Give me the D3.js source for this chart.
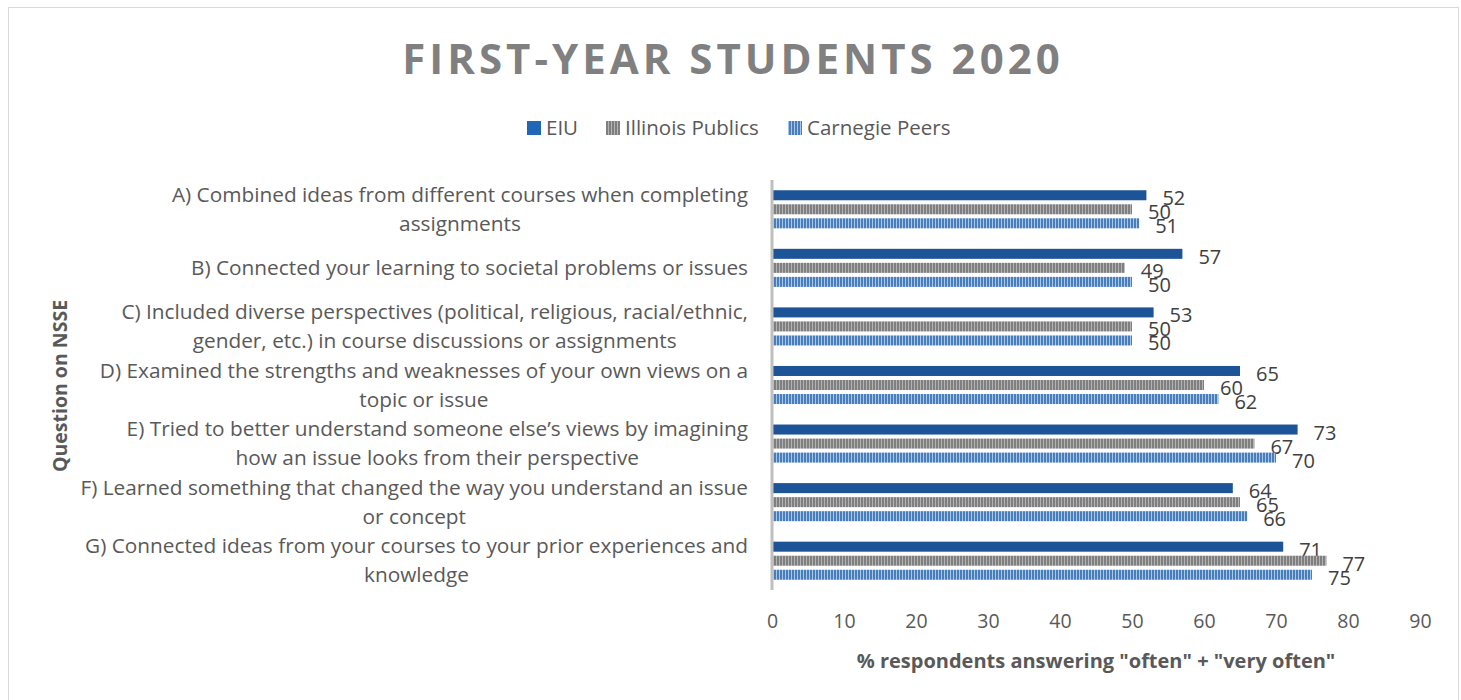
<!DOCTYPE html>
<meta charset="utf-8">
<style>
  body { margin: 0; background: #fff; }
  svg text { font-family: "Open Sans", Lato, sans-serif; fill: #595959; }
  .tick text { font-size: 19.5px; fill: #595959; font-family: "Open Sans", sans-serif; }
</style>
<body>
<script src="https://d3js.org/d3.v7.min.js"></script>
<script>
  // chart values
  var questions = [
    ["A) Combined ideas from different courses when completing", "assignments"],
    ["B) Connected your learning to societal problems or issues"],
    ["C) Included diverse perspectives (political, religious, racial/ethnic,", "gender, etc.) in course discussions or assignments"],
    ["D) Examined the strengths and weaknesses of your own views on a", "topic or issue"],
    ["E) Tried to better understand someone else\u2019s views by imagining", "how an issue looks from their perspective"],
    ["F) Learned something that changed the way you understand an issue", "or concept"],
    ["G) Connected ideas from your courses to your prior experiences and", "knowledge"]
  ];
  var seriesNames = ["EIU", "Illinois Publics", "Carnegie Peers"];
  var eiu = [52, 57, 53, 65, 73, 64, 71];
  var illinois = [50, 49, 50, 60, 67, 65, 77];
  var carnegie = [51, 50, 50, 62, 70, 66, 75];
  var xTicks = [0, 10, 20, 30, 40, 50, 60, 70, 80, 90];

  var series = [eiu, illinois, carnegie];
  var fills = ["#1d5497", "url(#hatchGray)", "url(#hatchBlue)"];

  var W = 1461, H = 700;
  var svg = d3.select("body").append("svg")
    .attr("width", W).attr("height", H);

  // stripe patterns
  var defs = svg.append("defs");
  function hatch(id, dark, light) {
    var p = defs.append("pattern").attr("id", id)
      .attr("patternUnits", "userSpaceOnUse")
      .attr("width", 3).attr("height", 10);
    p.append("rect").attr("width", 3).attr("height", 10).attr("fill", light);
    p.append("rect").attr("width", 2).attr("height", 10).attr("fill", dark);
  }
  hatch("hatchGray", "#7f7f7f", "#b3b3b3");
  hatch("hatchBlue", "#4a7ebb", "#a9c8e8");

  // chart border
  svg.append("rect")
    .attr("x", 8.5).attr("y", 7.5)
    .attr("width", 1450).attr("height", 720)
    .attr("fill", "none").attr("stroke", "#d9d9d9");

  // title
  svg.append("text")
    .attr("x", 733).attr("y", 74)
    .attr("text-anchor", "middle")
    .style("font-size", "42px").style("font-weight", "bold")
    .style("letter-spacing", "4px").style("fill", "#808080")
    .text("FIRST-YEAR STUDENTS 2020");

  var x = d3.scaleLinear().domain([0, 90]).range([772, 1420]);
  var y = d3.scaleBand().domain(d3.range(questions.length))
    .range([180, 590]).paddingInner(0.35).paddingOuter(0.175);
  var ySub = d3.scaleBand().domain(d3.range(3))
    .range([0, y.bandwidth()]).paddingInner(0.286).paddingOuter(0);

  // bars
  series.forEach(function (vals, s) {
    svg.append("g").selectAll("rect")
      .data(vals)
      .join("rect")
      .attr("x", x(0))
      .attr("y", function (d, i) { return y(i) + ySub(s); })
      .attr("width", function (d) { return x(d) - x(0); })
      .attr("height", ySub.bandwidth())
      .attr("fill", fills[s]);

    svg.append("g").selectAll("text")
      .data(vals)
      .join("text")
      .attr("x", function (d) { return x(d) + 16; })
      .attr("y", function (d, i) { return y(i) + ySub(s) + ySub.bandwidth() / 2 + 3; })
      .attr("dy", "0.35em")
      .style("font-size", "20px").style("fill", "#404040")
      .text(function (d) { return d; });
  });

  // y axis line
  svg.append("line")
    .attr("x1", x(0)).attr("x2", x(0))
    .attr("y1", 180).attr("y2", 590)
    .attr("stroke", "#bfbfbf").attr("stroke-width", 3);

  // x axis
  var xAxis = svg.append("g")
    .attr("transform", "translate(0,590)")
    .call(d3.axisBottom(x).tickValues(xTicks).tickSize(0).tickPadding(24));
  xAxis.select(".domain").remove();

  // category labels, lines centred in a block right-aligned at 748
  var labelRight = 748, lineH = 29;
  questions.forEach(function (lines, i) {
    var g = svg.append("g");
    var cy = y(i) + y.bandwidth() / 2;
    var texts = g.selectAll("text").data(lines).join("text")
      .attr("y", function (d, k) { return cy + (k - (lines.length - 1) / 2) * lineH; })
      .attr("dy", "0.35em")
      .attr("text-anchor", "middle")
      .style("font-size", "20.8px").style("fill", "#595959")
      .text(function (d) { return d; });
    var maxW = 0;
    texts.each(function () { maxW = Math.max(maxW, this.getComputedTextLength()); });
    texts.attr("x", labelRight - maxW / 2);
  });

  // axis titles
  svg.append("text")
    .attr("x", 1096).attr("y", 661).attr("dy", "0.35em")
    .attr("text-anchor", "middle")
    .style("font-size", "20px").style("font-weight", "bold")
    .text('% respondents answering "often" + "very often"');

  svg.append("text")
    .attr("transform", "translate(60,386) rotate(-90)")
    .attr("dy", "0.35em")
    .attr("text-anchor", "middle")
    .style("font-size", "19.5px").style("font-weight", "bold")
    .text("Question on NSSE");

  // legend
  var legend = svg.append("g");
  var legX = [527, 606, 788];
  seriesNames.forEach(function (name, s) {
    legend.append("rect")
      .attr("x", legX[s]).attr("y", 121)
      .attr("width", 14).attr("height", 14)
      .attr("fill", s === 0 ? "#2266b8" : (s === 1 ? "url(#hatchGray)" : "url(#hatchBlue)"));
    legend.append("text")
      .attr("x", legX[s] + 19).attr("y", 128).attr("dy", "0.35em")
      .style("font-size", "20.5px")
      .text(name);
  });
</script>
</body>
